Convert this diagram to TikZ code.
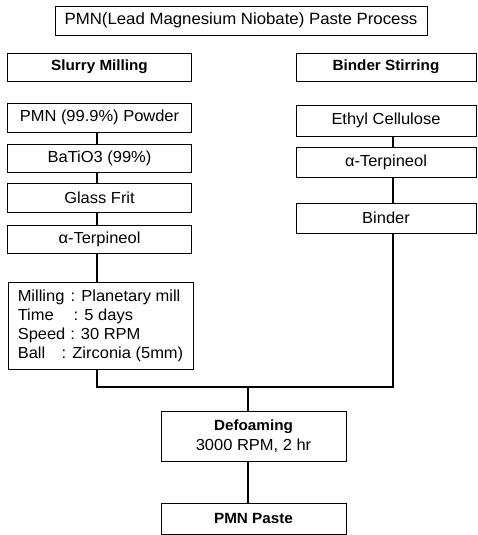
\documentclass[tikz,border=0pt]{standalone}
\usepackage{fontspec}
\setmainfont{Liberation Sans}[FakeStretch=1.03]
\newcommand{\lbl}[2]{\makebox[#1pt][l]{#2}}
\begin{document}
\begin{tikzpicture}[x=1pt,y=-1pt,
  box/.style={draw=black,line width=0.9pt,fill=white,inner sep=0pt,
    minimum width=184pt,font=\fontsize{16}{19}\selectfont},
  bbox/.style={box,font=\fontsize{14.8}{17}\selectfont\bfseries},
  conn/.style={line width=1.3pt}]
\useasboundingbox (0,0) rectangle (478,535);
\node[box,minimum width=372pt,minimum height=29pt,font=\fontsize{16.3}{19}\selectfont] (title) at (241,20.5) {PMN(Lead Magnesium Niobate) Paste Process};
\node[bbox,minimum height=28pt] (slurry) at (99.5,67) {Slurry Milling};
\node[bbox,minimum width=180pt,minimum height=28pt] (bstir) at (386,67) {Binder Stirring};
\node[box,minimum height=29pt] (pmn) at (99.5,117.5) {PMN (99.9\%) Powder};
\node[box,minimum height=28pt] (bto) at (99.5,158) {BaTiO3 (99\%)};
\node[box,minimum height=29pt] (glass) at (99.5,197.5) {Glass Frit};
\node[box,minimum height=28pt] (terpa) at (99.5,239) {α-Terpineol};
\node[box,minimum width=180pt,minimum height=31pt] (ethyl) at (386,120.5) {Ethyl Cellulose};
\node[box,minimum width=180pt,minimum height=30pt] (terpb) at (386,162) {α-Terpineol};
\node[box,minimum width=180pt,minimum height=30pt] (binder) at (386,218) {Binder};
\node[box,minimum width=185pt,minimum height=87pt,align=left] (mill) at (100.5,325.5)
  {\lbl{53}{Milling}: Planetary mill\\\lbl{56}{Time}: 5 days\\\lbl{52.5}{Speed}: 30 RPM\\\lbl{44}{Ball}: Zirconia (5mm)};
\node[box,minimum width=185pt,minimum height=50pt,align=center] (defoam) at (253.5,436)
  {{\fontsize{14.8}{17}\selectfont\bfseries Defoaming}\\[1pt]3000 RPM, 2 hr};
\node[bbox,minimum width=185pt,minimum height=31pt] (paste) at (253.5,518.5) {PMN Paste};
\coordinate (lx) at (97,0);
\coordinate (rx) at (393,0);
\coordinate (j) at (248,387);
\draw[conn] (pmn.south -| lx) -- (bto.north -| lx);
\draw[conn] (bto.south -| lx) -- (glass.north -| lx);
\draw[conn] (glass.south -| lx) -- (terpa.north -| lx);
\draw[conn] (terpa.south -| lx) -- (mill.north -| lx);
\draw[conn] (ethyl.south -| rx) -- (terpb.north -| rx);
\draw[conn] (terpb.south -| rx) -- (binder.north -| rx);
\draw[conn] (mill.south -| lx) |- (j);
\draw[conn] (binder.south -| rx) |- (j);
\draw[conn] (j) -- (defoam.north -| j);
\draw[conn] (defoam.south -| j) -- (paste.north -| j);
\end{tikzpicture}
\end{document}
